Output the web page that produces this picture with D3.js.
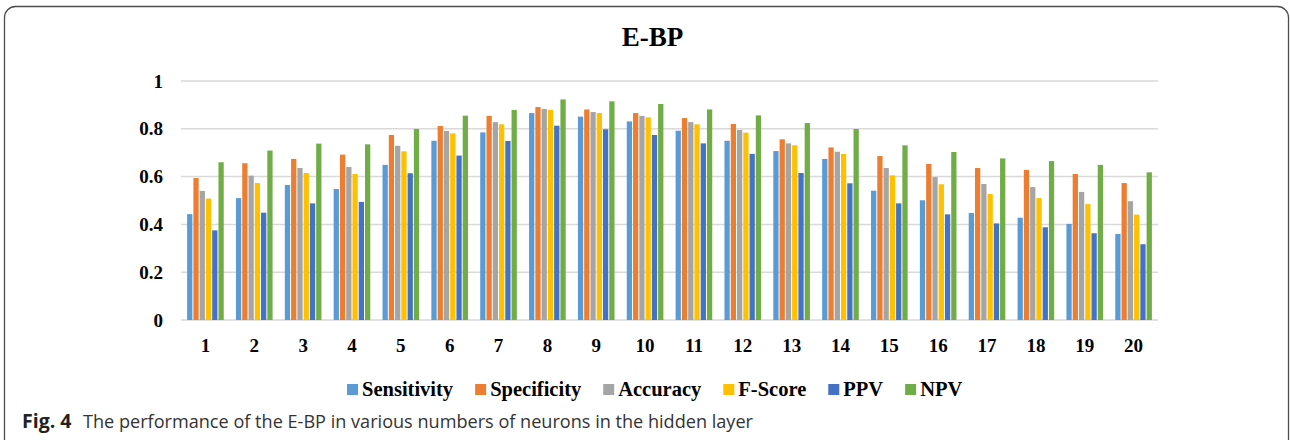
<!DOCTYPE html>
<html>
<head>
<meta charset="utf-8">
<script src="https://cdn.jsdelivr.net/npm/d3@7"></script>
<style>
  html, body { margin: 0; padding: 0; background: #fff; }
  svg { display: block; }
</style>
</head>
<body>
<svg id="chart" width="1290" height="440"></svg>
<script>
const categories = ["1","2","3","4","5","6","7","8","9","10","11","12","13","14","15","16","17","18","19","20"];
const seriesNames = ["Sensitivity","Specificity","Accuracy","F-Score","PPV","NPV"];
const sensitivity = [0.443,0.510,0.565,0.548,0.649,0.750,0.785,0.866,0.851,0.831,0.792,0.750,0.707,0.674,0.541,0.501,0.448,0.428,0.402,0.360];
const specificity = [0.594,0.656,0.674,0.692,0.774,0.812,0.854,0.891,0.881,0.866,0.845,0.820,0.756,0.722,0.686,0.653,0.636,0.628,0.611,0.573];
const accuracy    = [0.540,0.604,0.636,0.640,0.729,0.791,0.828,0.883,0.870,0.854,0.828,0.795,0.739,0.704,0.636,0.598,0.569,0.556,0.536,0.497];
const fScore      = [0.508,0.573,0.615,0.611,0.706,0.781,0.819,0.879,0.866,0.848,0.819,0.784,0.731,0.695,0.605,0.568,0.527,0.510,0.485,0.441];
const ppv         = [0.375,0.449,0.488,0.494,0.614,0.688,0.749,0.813,0.798,0.774,0.739,0.695,0.615,0.572,0.488,0.442,0.404,0.388,0.363,0.317];
const npv         = [0.660,0.709,0.738,0.735,0.799,0.855,0.879,0.923,0.915,0.904,0.881,0.856,0.824,0.799,0.731,0.703,0.676,0.665,0.649,0.618];
const yTicks = [0, 0.2, 0.4, 0.6, 0.8, 1];
const yTickLabels = ["0","0.2","0.4","0.6","0.8","1"];
const colors = ["#5B9BD5","#ED7D31","#A5A5A5","#FFC000","#4472C4","#70AD47"];

const seriesValues = [sensitivity, specificity, accuracy, fScore, ppv, npv];

const svg = d3.select("#chart");
const serif = "'Liberation Serif','Times New Roman',serif";

// frame
svg.append("rect")
  .attr("x", 4.5).attr("y", 6.5)
  .attr("width", 1284).attr("height", 470)
  .attr("rx", 11).attr("ry", 11)
  .attr("fill", "none").attr("stroke", "#4d4d4d").attr("stroke-width", 1.3);

const plotLeft = 181, plotRight = 1158, plotTop = 81, plotBottom = 320;

const x = d3.scaleBand().domain(categories).range([plotLeft, plotRight]).paddingInner(0.23).paddingOuter(0.115);
const xs = d3.scaleBand().domain(seriesNames).range([0, x.bandwidth()]).padding(0);
const y = d3.scaleLinear().domain([0, 1]).range([plotBottom, plotTop]);

// gridlines
svg.append("g").selectAll("line").data(yTicks).join("line")
  .attr("x1", plotLeft).attr("x2", plotRight)
  .attr("y1", d => y(d)).attr("y2", d => y(d))
  .attr("stroke", "#d9d9d9").attr("stroke-width", 1.5);

// y tick labels
svg.append("g").selectAll("text").data(yTicks).join("text")
  .attr("x", 163).attr("y", d => y(d)).attr("dy", "0.35em")
  .attr("text-anchor", "end")
  .attr("font-family", serif).attr("font-weight", "bold").attr("font-size", 19)
  .attr("fill", "#000")
  .text((d, i) => yTickLabels[i]);

// bars
const groups = svg.append("g").selectAll("g").data(seriesNames).join("g")
  .attr("fill", (d, i) => colors[i]);
groups.each(function(name, si) {
  d3.select(this).selectAll("rect").data(seriesValues[si]).join("rect")
    .attr("x", (v, ci) => x(categories[ci]) + xs(name) + 0.5)
    .attr("width", xs.bandwidth() - 1)
    .attr("y", v => y(v))
    .attr("height", v => y(0) - y(v));
});

// category labels
svg.append("g").selectAll("text").data(categories).join("text")
  .attr("x", d => x(d) + x.bandwidth() / 2).attr("y", 352)
  .attr("text-anchor", "middle")
  .attr("font-family", serif).attr("font-weight", "bold").attr("font-size", 19)
  .attr("fill", "#000")
  .text(d => d);

// title
svg.append("text")
  .attr("x", 652.5).attr("y", 46)
  .attr("text-anchor", "middle")
  .attr("font-family", serif).attr("font-weight", "bold").attr("font-size", 27)
  .attr("fill", "#000")
  .text("E-BP");

// legend
const legend = svg.append("g");
let lx = 347;
seriesNames.forEach((name, i) => {
  legend.append("rect")
    .attr("x", lx).attr("y", 384).attr("width", 11).attr("height", 11)
    .attr("fill", colors[i]);
  const t = legend.append("text")
    .attr("x", lx + 15).attr("y", 396)
    .attr("font-family", serif).attr("font-weight", "bold").attr("font-size", 20.5)
    .attr("fill", "#000")
    .text(name);
  lx += 15 + t.node().getComputedTextLength() + 22;
});

// caption
const capFont = "'Open Sans','Noto Sans',sans-serif";
svg.append("text")
  .attr("x", 22).attr("y", 428)
  .attr("font-family", capFont).attr("font-size", 19.5).attr("font-weight", "bold")
  .attr("fill", "#222")
  .text("Fig. 4");
svg.append("text")
  .attr("x", 83).attr("y", 428)
  .attr("font-family", capFont).attr("font-size", 18)
  .attr("fill", "#333")
  .attr("textLength", 670).attr("lengthAdjust", "spacingAndGlyphs")
  .text("The performance of the E-BP in various numbers of neurons in the hidden layer");
</script>
</body>
</html>
